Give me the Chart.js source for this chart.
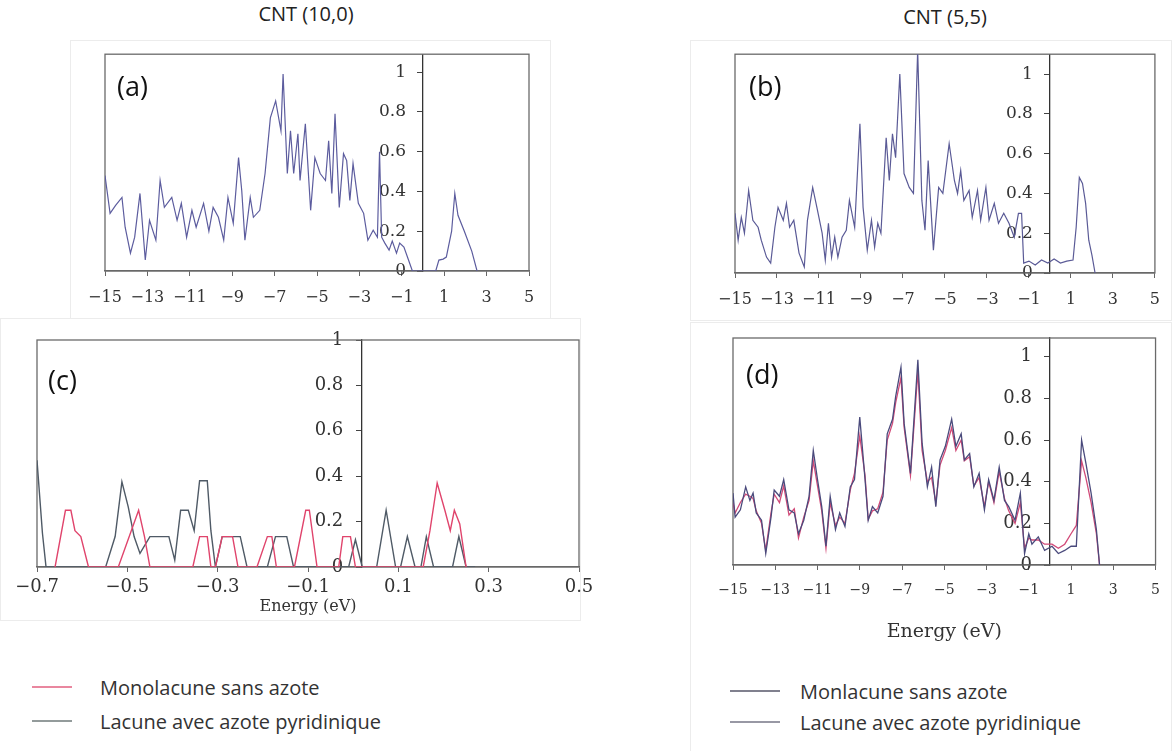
<!DOCTYPE html>
<html>
<head>
<meta charset="utf-8">
<script src="https://cdn.jsdelivr.net/npm/chart.js@4.4.1/dist/chart.umd.min.js"></script>
<style>
  body { margin: 0; background: #fff; width: 1172px; height: 751px; position: relative; overflow: hidden; font-family: "Open Sans", sans-serif; color: #222; }
  canvas { position: absolute; }
  .panel { position: absolute; border: 1px solid #ececec; box-sizing: border-box; }
  .tag { position: absolute; font-size: 27px; line-height: 1; color: #111; }
  .title { position: absolute; font-size: 20px; line-height: 24px; color: #222; transform: translateX(-50%); white-space: nowrap; }
  .leg { position: absolute; font-size: 20px; line-height: 24px; color: #333; white-space: nowrap; }
  .swatch { position: absolute; height: 2px; }
</style>
</head>
<body>
<div class="panel" style="left:70px;top:40px;width:481px;height:279px"></div>
<div class="panel" style="left:690px;top:40px;width:482px;height:281px"></div>
<div class="panel" style="left:0;top:318px;width:581px;height:303px"></div>
<div class="panel" style="left:690px;top:322px;width:482px;height:430px"></div>

<canvas id="chartA" width="480" height="278" style="left:70px;top:40px"></canvas>
<canvas id="chartB" width="482" height="280" style="left:690px;top:40px"></canvas>
<canvas id="chartC" width="600" height="300" style="left:0;top:320px"></canvas>
<canvas id="chartD" width="482" height="330" style="left:690px;top:322px"></canvas>

<div class="title" style="left:306px;top:2px">CNT (10,0)</div>
<div class="title" style="left:945px;top:5px">CNT (5,5)</div>

<div class="tag" style="left:117px;top:72px">(a)</div>
<div class="tag" style="left:749px;top:72px">(b)</div>
<div class="tag" style="left:48px;top:366px">(c)</div>
<div class="tag" style="left:746px;top:360px">(d)</div>

<div class="swatch" style="left:32px;top:686px;width:40px;background:#e9879f"></div>
<div class="leg" style="left:100px;top:676px">Monolacune sans azote</div>
<div class="swatch" style="left:32px;top:720px;width:40px;background:#939b9b"></div>
<div class="leg" style="left:100px;top:710px">Lacune avec azote pyridinique</div>

<div class="swatch" style="left:730px;top:690px;width:50px;background:#80808e"></div>
<div class="leg" style="left:800px;top:680px">Monlacune sans azote</div>
<div class="swatch" style="left:730px;top:721px;width:50px;background:#9898a4"></div>
<div class="leg" style="left:800px;top:711px">Lacune avec azote pyridinique</div>

<script>
// tick positions
const xTicksWide = [-15, -13, -11, -9, -7, -5, -3, -1, 1, 3, 5];
const xTicksC = [-0.7, -0.5, -0.3, -0.1, 0.1, 0.3, 0.5];
const yTicks = [0, 0.2, 0.4, 0.6, 0.8, 1];

// (a) CNT (10,0)
const aEnergy = [-15, -14.76, -14.5, -14.2, -14.05, -13.8, -13.6, -13.35, -13.1, -12.9, -12.6, -12.4, -12.2, -11.85,
  -11.6, -11.4, -11.15, -10.9, -10.7, -10.35, -10.1, -9.9, -9.65, -9.4, -9.2, -8.95, -8.7, -8.55, -8.4, -8.15, -8.0,
  -7.7, -7.45, -7.2, -6.95, -6.7, -6.6, -6.4, -6.25, -6.1, -5.9, -5.8, -5.55, -5.3, -5.1, -4.85, -4.6, -4.45, -4.3,
  -4.15, -3.95, -3.75, -3.6, -3.45, -3.3, -3.05, -2.8, -2.6, -2.35, -2.15, -2.05, -1.95, -1.8, -1.6, -1.45, -1.25,
  -1.1, -0.9, -0.7, -0.5, 0.6, 0.75, 0.95, 1.1, 1.35, 1.5, 1.65, 1.95, 2.3, 2.55];
const aDos = [0.48, 0.29, 0.33, 0.37, 0.22, 0.09, 0.17, 0.39, 0.055, 0.255, 0.155, 0.455, 0.32, 0.37,
  0.255, 0.34, 0.17, 0.305, 0.22, 0.34, 0.2, 0.32, 0.27, 0.155, 0.37, 0.24, 0.57, 0.405, 0.155, 0.37, 0.27,
  0.305, 0.49, 0.77, 0.855, 0.705, 0.99, 0.49, 0.705, 0.49, 0.69, 0.455, 0.74, 0.305, 0.57, 0.49, 0.455, 0.655, 0.39,
  0.79, 0.32, 0.59, 0.555, 0.355, 0.54, 0.34, 0.29, 0.155, 0.205, 0.17, 0.6, 0.17, 0.14, 0.105, 0.15, 0.09,
  0.14, 0.12, 0.06, 0, 0, 0.055, 0.06, 0.07, 0.2, 0.39, 0.28, 0.2, 0.1, 0];

// (b) CNT (5,5)
const bEnergy = [-15, -14.85, -14.7, -14.55, -14.35, -14.15, -13.9, -13.75, -13.5, -13.3, -13.1, -12.95, -12.7,
  -12.55, -12.4, -12.2, -11.95, -11.7, -11.55, -11.3, -11.1, -10.85, -10.7, -10.55, -10.4, -10.25, -10.1, -9.9,
  -9.7, -9.55, -9.3, -9.05, -8.9, -8.7, -8.5, -8.35, -8.2, -8.05, -7.8, -7.65, -7.5, -7.35, -7.15, -6.95, -6.7,
  -6.5, -6.3, -6.1, -5.95, -5.8, -5.55, -5.3, -5.1, -4.8, -4.55, -4.4, -4.25, -4.1, -3.85, -3.7, -3.45, -3.3,
  -3.05, -2.9, -2.65, -2.45, -2.2, -1.95, -1.7, -1.5, -1.35, -1.25, -1.0, -0.7, -0.4, -0.1, 0.2, 0.5, 0.8, 1.1,
  1.25, 1.4, 1.55, 1.7, 1.85, 2.0, 2.15];
const bDos = [0.3, 0.165, 0.28, 0.2, 0.415, 0.265, 0.23, 0.165, 0.08, 0.05, 0.23, 0.33, 0.265,
  0.35, 0.23, 0.265, 0.1, 0.03, 0.265, 0.43, 0.33, 0.2, 0.065, 0.25, 0.08, 0.18, 0.08, 0.18,
  0.215, 0.365, 0.23, 0.75, 0.33, 0.115, 0.265, 0.13, 0.25, 0.2, 0.68, 0.465, 0.7, 0.58, 1.0, 0.5, 0.43,
  0.4, 1.12, 0.365, 0.215, 0.565, 0.115, 0.43, 0.4, 0.65, 0.465, 0.4, 0.515, 0.365, 0.415, 0.28, 0.415, 0.265,
  0.43, 0.265, 0.35, 0.25, 0.3, 0.25, 0.18, 0.3, 0.3, 0.05, 0.06, 0.04, 0.065, 0.05, 0.07, 0.05, 0.06, 0.065,
  0.23, 0.48, 0.45, 0.35, 0.165, 0.09, 0];

// (c) zoom around the Fermi level
const cMonoEnergy = [-0.66, -0.637, -0.625, -0.616, -0.603, -0.586, -0.52, -0.475, -0.462, -0.45, -0.355, -0.34,
  -0.323, -0.315, -0.305, -0.29, -0.267, -0.255, -0.213, -0.19, -0.18, -0.17, -0.13, -0.105, -0.097, -0.08,
  -0.032, -0.023, -0.006, 0.005, 0.155, 0.17, 0.186, 0.203, 0.215, 0.224, 0.236, 0.25];
const cMonoDos = [0, 0.25, 0.25, 0.16, 0.134, 0, 0, 0.25, 0.134, 0, 0, 0.134,
  0.134, 0, 0, 0.134, 0.134, 0, 0, 0.134, 0.134, 0, 0, 0.25, 0.25, 0,
  0, 0.134, 0.134, 0, 0, 0.16, 0.37, 0.25, 0.16, 0.25, 0.19, 0];
const cPyrEnergy = [-0.7, -0.688, -0.68, -0.548, -0.527, -0.512, -0.498, -0.485, -0.472, -0.45, -0.408, -0.395,
  -0.382, -0.365, -0.352, -0.34, -0.323, -0.315, -0.305, -0.29, -0.25, -0.235, -0.19, -0.172, -0.147, -0.132,
  -0.01, 0.005, 0.02, 0.052, 0.073, 0.094, 0.105, 0.12, 0.137, 0.15, 0.162, 0.178, 0.22, 0.234, 0.25, 0.27];
const cPyrDos = [0.47, 0.15, 0, 0, 0.134, 0.375, 0.265, 0.134, 0.06, 0.134, 0.134, 0.03,
  0.25, 0.25, 0.16, 0.38, 0.38, 0.16, 0, 0.134, 0.134, 0, 0, 0.134, 0.134, 0,
  0, 0.12, 0, 0, 0.25, 0, 0, 0.134, 0, 0, 0.134, 0, 0, 0.134, 0, 0];

// (d) CNT (5,5), two defects
const dEnergy = [-15, -14.9, -14.65, -14.4, -14.2, -14.05, -13.9, -13.65, -13.45, -13.2, -13.05, -12.8, -12.6,
  -12.35, -12.1, -11.9, -11.65, -11.4, -11.2, -11.0, -10.8, -10.6, -10.4, -10.15, -9.95, -9.7, -9.45, -9.25,
  -9.0, -8.75, -8.6, -8.4, -8.15, -7.9, -7.7, -7.45, -7.3, -7.05, -6.9, -6.6, -6.25, -6.05, -5.8, -5.6, -5.4,
  -5.2, -4.95, -4.65, -4.45, -4.2, -4.05, -3.8, -3.6, -3.35, -3.1, -2.9, -2.65, -2.4, -2.15, -1.95, -1.65, -1.4,
  -1.2, -1.0, -0.85, -0.55, -0.25, 0.1, 0.4, 0.7, 1.0, 1.25, 1.5, 1.7, 1.95, 2.2, 2.35];
const dPyrDos = [0.345, 0.23, 0.265, 0.375, 0.31, 0.345, 0.25, 0.215, 0.055, 0.23, 0.36, 0.33, 0.41,
  0.265, 0.25, 0.15, 0.215, 0.33, 0.55, 0.41, 0.28, 0.09, 0.33, 0.17, 0.25, 0.185, 0.375, 0.41,
  0.71, 0.41, 0.215, 0.28, 0.25, 0.33, 0.63, 0.7, 0.81, 0.95, 0.68, 0.44, 0.985, 0.585, 0.375, 0.47, 0.28,
  0.505, 0.57, 0.7, 0.57, 0.63, 0.505, 0.535, 0.375, 0.44, 0.265, 0.41, 0.31, 0.47, 0.31, 0.28, 0.215, 0.345,
  0.055, 0.15, 0.1, 0.135, 0.07, 0.09, 0.055, 0.07, 0.09, 0.09, 0.6, 0.49, 0.345, 0.17, 0];
const dMonoDos = [0.3, 0.25, 0.3, 0.34, 0.33, 0.32, 0.26, 0.2, 0.07, 0.25, 0.34, 0.3, 0.38,
  0.24, 0.27, 0.13, 0.23, 0.31, 0.5, 0.38, 0.26, 0.08, 0.3, 0.19, 0.23, 0.2, 0.36, 0.44,
  0.62, 0.43, 0.22, 0.26, 0.27, 0.35, 0.6, 0.68, 0.78, 0.9, 0.66, 0.43, 0.93, 0.55, 0.4, 0.42, 0.3,
  0.48, 0.55, 0.66, 0.55, 0.6, 0.5, 0.52, 0.38, 0.42, 0.28, 0.4, 0.3, 0.45, 0.32, 0.26, 0.2, 0.3,
  0.08, 0.13, 0.12, 0.12, 0.1, 0.1, 0.08, 0.1, 0.15, 0.19, 0.5, 0.42, 0.3, 0.15, 0];

const seriesNames = ['Monolacune sans azote', 'Lacune avec azote pyridinique'];

const fmt = v => (v < 0 ? '\u2212' : '') + Math.abs(v);
// y axis sits inside the plot (at E = 0), so its labels get a little gap by hand
const fmtY = v => fmt(v) + '\u2002\u2002';
const pts = (xs, ys) => xs.map((x, i) => ({ x: x, y: ys[i] }));

// full box around the plot area, like the original figure
const framePlugin = {
  id: 'frame',
  beforeDatasetsDraw(chart) {
    const { ctx, chartArea: a } = chart;
    ctx.save();
    ctx.strokeStyle = '#6a6a6a';
    ctx.lineWidth = 1.3;
    ctx.strokeRect(a.left, a.top, a.right - a.left, a.bottom - a.top);
    ctx.restore();
  }
};

function drawPanel(id, p) {
  return new Chart(document.getElementById(id), {
    type: 'line',
    data: { datasets: p.datasets },
    options: {
      responsive: false,
      animation: false,
      devicePixelRatio: 1,
      layout: { padding: p.pad },
      plugins: { legend: { display: false }, tooltip: { enabled: false } },
      elements: { point: { radius: 0 }, line: { borderWidth: 1.3, tension: 0 } },
      scales: {
        x: {
          type: 'linear', min: p.xMin, max: p.xMax, position: 'bottom',
          afterBuildTicks: s => { s.ticks = p.xTicks.map(v => ({ value: v })); },
          afterFit: s => { s.height = p.axisH; },
          grid: { display: true, drawOnChartArea: false, drawTicks: true, tickLength: 5, color: '#666' },
          border: { display: true, color: '#666', width: 1.3 },
          ticks: { autoSkip: false, maxRotation: 0, minRotation: 0, padding: p.xPad, color: '#333',
                   font: { family: 'DejaVu Serif', size: p.xFont }, callback: fmt },
          title: p.xTitle
            ? { display: true, text: p.xTitle, color: '#333', padding: { top: 0, bottom: p.titlePad },
                font: { family: 'DejaVu Serif', size: p.titleFont } }
            : { display: false }
        },
        y: {
          type: 'linear', min: 0, max: p.yMax, position: { x: p.yAt },
          afterBuildTicks: s => { s.ticks = yTicks.map(v => ({ value: v })); },
          grid: { display: true, drawOnChartArea: false, drawTicks: true, tickLength: 5, color: '#444' },
          border: { display: true, color: '#333', width: 1.3 },
          ticks: { padding: 4, color: '#333', font: { family: 'DejaVu Serif', size: p.yFont }, callback: fmtY }
        }
      }
    },
    plugins: [framePlugin]
  });
}

drawPanel('chartA', {
  pad: { left: 35, top: 13, right: 21, bottom: 7 }, axisH: 40,
  xMin: -15, xMax: 5, xTicks: xTicksWide, xPad: 12, xFont: 16, yMax: 1.09, yAt: 0, yFont: 17,
  datasets: [{ label: 'DOS', data: pts(aEnergy, aDos), borderColor: '#5c5c9e', borderWidth: 1.2 }]
});

drawPanel('chartB', {
  pad: { left: 45, top: 13, right: 10, bottom: 7 }, axisH: 40,
  xMin: -15, xMax: 5, xTicks: xTicksWide, xPad: 12, xFont: 16, yMax: 1.1, yAt: 0, yFont: 17,
  datasets: [{ label: 'DOS', data: pts(bEnergy, bDos), borderColor: '#5a5a96', borderWidth: 1.2 }]
});

drawPanel('chartC', {
  pad: { left: 37, top: 20, right: 21, bottom: 3 }, axisH: 50,
  xMin: -0.7, xMax: 0.5, xTicks: xTicksC, xPad: 5, xFont: 18, yMax: 1, yAt: 0.018, yFont: 18,
  xTitle: 'Energy (eV)', titleFont: 16, titlePad: 1,
  datasets: [
    { label: seriesNames[0], data: pts(cMonoEnergy, cMonoDos), borderColor: '#e0446c', borderWidth: 1.4 },
    { label: seriesNames[1], data: pts(cPyrEnergy, cPyrDos), borderColor: '#4f5a66', borderWidth: 1.4 }
  ]
});

drawPanel('chartD', {
  pad: { left: 43, top: 16, right: 10, bottom: 7 }, axisH: 80,
  xMin: -15, xMax: 5, xTicks: xTicksWide, xPad: 12, xFont: 14, yMax: 1.09, yAt: 0, yFont: 18,
  xTitle: 'Energy (eV)', titleFont: 19, titlePad: 2,
  datasets: [
    { label: seriesNames[1], data: pts(dEnergy, dPyrDos), borderColor: '#4a4a7c', borderWidth: 1.3, order: 0 },
    { label: seriesNames[0], data: pts(dEnergy, dMonoDos), borderColor: '#d24a78', borderWidth: 1.3, order: 1 }
  ]
});
</script>
</body>
</html>
